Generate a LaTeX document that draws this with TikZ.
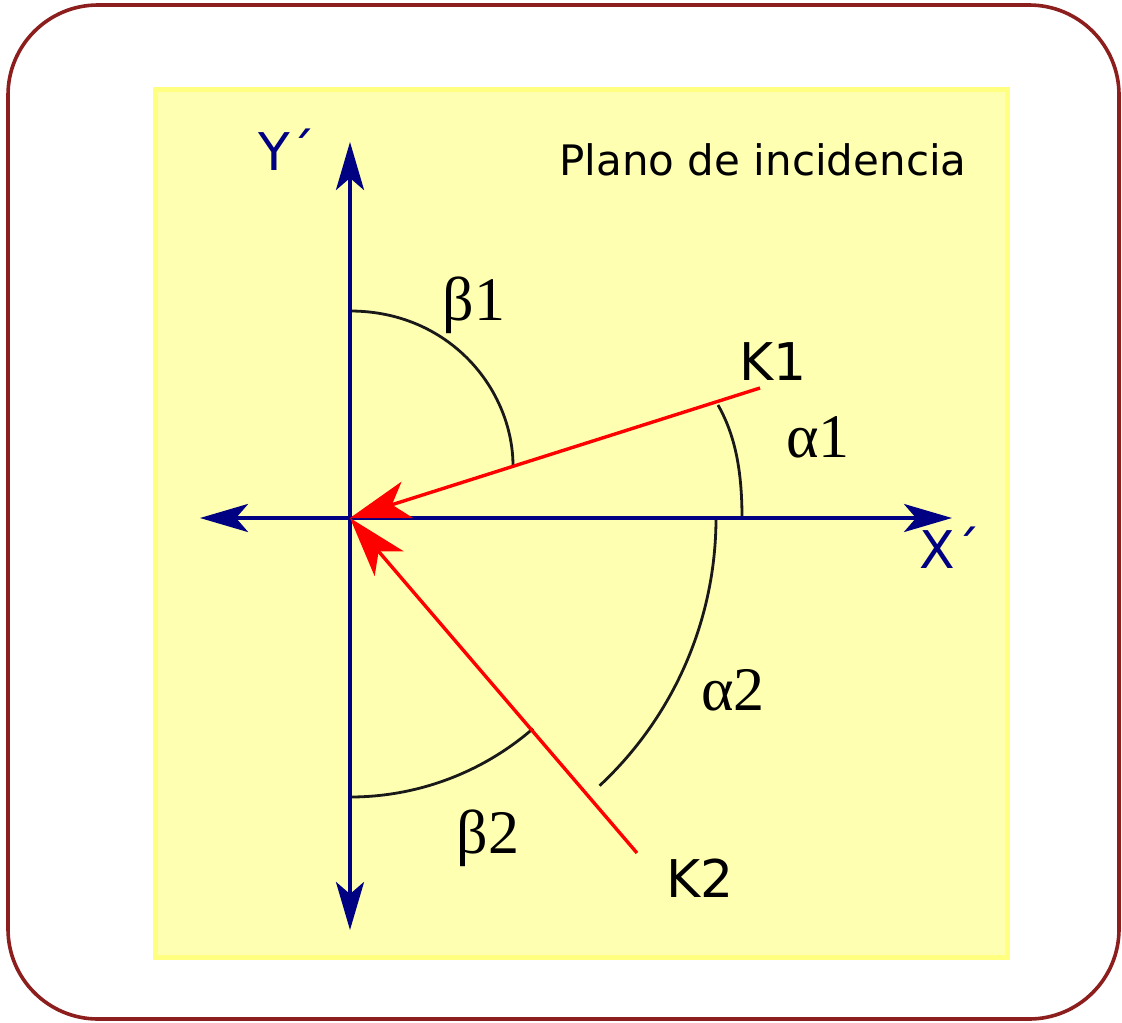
\documentclass[tikz,border=0pt]{standalone}
\usepackage{fontspec}
\setmainfont{Liberation Serif}
\newfontfamily\verdfont{DejaVu Sans}
\usetikzlibrary{arrows.meta}
\usetikzlibrary{positioning}
\definecolor{navyaxis}{RGB}{0,0,130}
\definecolor{framered}{RGB}{140,30,30}
\definecolor{planefill}{RGB}{255,255,178}
\definecolor{planeline}{RGB}{255,255,128}

\begin{document}
\begin{tikzpicture}[
x=0.5pt, y=-0.5pt,
every node/.style={inner sep=0},
axis/.style={navyaxis, line width=2pt, {Stealth[length=24pt, width=14pt, inset=6pt]}-{Stealth[length=24pt, width=14pt, inset=6pt]}},
ray/.style={red, line width=1.7pt, -{Stealth[length=30pt, width=19pt, inset=8pt]}},
angarc/.style={black!90, line width=1.4pt},
sanslabel/.style={font=\verdfont\fontsize{21}{25}\selectfont},
biglabel/.style={font=\verdfont\fontsize{26}{30}\selectfont},
greek/.style={font=\fontsize{31}{35}\selectfont}
]
\useasboundingbox (0,0) rectangle (1122,1022);
\draw[framered, line width=1.8pt, rounded corners=45pt] (8,5) rectangle (1119,1019);
\draw[planeline, fill=planefill, line width=2.5pt] (155,90) rectangle (1007,957);

\coordinate (O) at (350,518);
\coordinate (xl) at (200,518);
\coordinate (xr) at (952,518);
\coordinate (yt) at (350,142);
\coordinate (yb) at (350,930);
\coordinate (k1) at (760,388);
\coordinate (k2) at (637,853);

\draw[angarc] (350,311) .. controls (450,311) and (513,390) .. (513,466);
\draw[angarc] (718,405) .. controls (735,435) and (742,470) .. (742,518);
\draw[angarc] ([shift={(0:366)}]O) arc[start angle=0, end angle=47, radius=366];
\draw[angarc] ([shift={(90:279)}]O) arc[start angle=90, end angle=49, radius=279];

\draw[axis] (xl) -- (xr);
\draw[axis] (yb) -- (yt);
\draw[ray] (k1) -- (O);
\draw[ray] (k2) -- (O);

\node[sanslabel] (plano) at (763,160) {Plano de incidencia};
\node[biglabel, navyaxis] (ylab) at (287,150) {Y´};
\node[biglabel, navyaxis] (xlab) at (950,548) {X´};
\node[biglabel] (K1) at (773,362) {K1};
\node[biglabel] (K2) at (700,878) {K2};
\node[greek] (b1) at (474,305) {β1};
\node[greek] (a1) at (818,437) {α1};
\node[greek] (a2) at (733,690) {α2};
\node[greek] (b2) at (488,838) {β2};
\end{tikzpicture}
\end{document}
